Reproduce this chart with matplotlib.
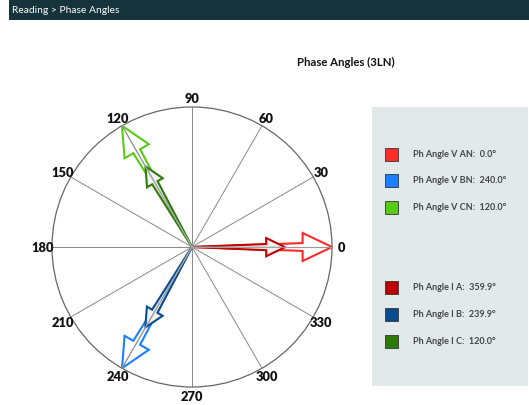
import numpy as np
import matplotlib.pyplot as plt
from matplotlib.patches import Polygon, Circle, Rectangle

plt.rcParams['font.family'] = ['Lato', 'DejaVu Sans']

# phase angles in degrees
volt_names = ["Ph Angle V AN:", "Ph Angle V BN:", "Ph Angle V CN:"]
volt_angles = [0.0, 240.0, 120.0]
curr_names = ["Ph Angle I A:", "Ph Angle I B:", "Ph Angle I C:"]
curr_angles = [359.9, 239.9, 120.0]
grid_angles = list(range(0, 360, 30))

volt_colors = ["#ff2a2a", "#1a80ff", "#55cc15"]
curr_colors = ["#c00000", "#0a4a8e", "#2f7a0c"]


def arrow_points(angle, base, tip, shaft_hw, head_hw):
    # long tapered shaft from the centre, then an open arrow head
    local = np.array([
        [0.0, 0.0],
        [base, -shaft_hw],
        [base, -head_hw],
        [tip, 0.0],
        [base, head_hw],
        [base, shaft_hw],
    ])
    a = np.deg2rad(angle)
    rot = np.array([[np.cos(a), -np.sin(a)], [np.sin(a), np.cos(a)]])
    return local @ rot.T


fig = plt.figure(figsize=(5.29, 4.06), dpi=100)

# header bar
hdr = fig.add_axes([9 / 529, 1 - 21 / 406, 520 / 529, 21 / 406])
hdr.set_facecolor("#14333a")
hdr.set_xticks([])
hdr.set_yticks([])
for s in hdr.spines.values():
    s.set_visible(False)
hdr.text(0.006, 0.5, "Reading > Phase Angles", color="white", fontsize=7.4,
         va="center", ha="left", transform=hdr.transAxes)

fig.text(346 / 529, 1 - 62 / 406, "Phase Angles (3LN)", fontsize=8.2,
         fontweight="bold", ha="center", va="center", color="#111111")

# phasor diagram
r_px = 140
cx, cy = 192, 248
ax = fig.add_axes([(cx - 1.25 * r_px) / 529, 1 - (cy + 1.25 * r_px) / 406,
                   2.5 * r_px / 529, 2.5 * r_px / 406])
ax.set_xlim(-1.25, 1.25)
ax.set_ylim(-1.25, 1.25)
ax.axis("off")

ax.add_patch(Circle((0, 0), 1.0, fill=False, edgecolor="#666666", lw=0.9))
for g in grid_angles:
    t = np.deg2rad(g)
    ax.plot([0, np.cos(t)], [0, np.sin(t)], color="#888888", lw=0.7)
    ax.text(1.065 * np.cos(t), 1.065 * np.sin(t), str(g), fontsize=9.3,
            fontweight="heavy", ha="center", va="center", color="#111111")

for ang, col in zip(volt_angles, volt_colors):
    pts = arrow_points(ang, 0.79, 1.0, 0.028, 0.1)
    ax.add_patch(Polygon(pts, closed=True, facecolor="white", edgecolor=col,
                         lw=1.5, joinstyle="miter"))
    t = np.deg2rad(ang)
    ax.plot([0, 0.99 * np.cos(t)], [0, 0.99 * np.sin(t)], color="#999999", lw=0.8)

for ang, col in zip(curr_angles, curr_colors):
    pts = arrow_points(ang, 0.53, 0.665, 0.022, 0.065)
    ax.add_patch(Polygon(pts, closed=True, facecolor="#f2f2f2", edgecolor=col,
                         lw=1.5, joinstyle="miter"))
    t = np.deg2rad(ang)
    ax.plot([0, 0.63 * np.cos(t)], [0, 0.63 * np.sin(t)], color="#aaaaaa", lw=0.7)

# legend panel
pnl = fig.add_axes([372 / 529, 1 - 387 / 406, 156 / 529, 279 / 406])
pnl.set_facecolor("#e2e9eb")
pnl.set_xlim(372, 528)
pnl.set_ylim(387, 108)
pnl.set_xticks([])
pnl.set_yticks([])
for s in pnl.spines.values():
    s.set_visible(False)

rows_y = [155, 181, 208, 288, 315, 342]
names = volt_names + curr_names
values = volt_angles + curr_angles
colors = volt_colors + curr_colors
for y, name, val, col in zip(rows_y, names, values, colors):
    pnl.add_patch(Rectangle((385, y - 6.5), 13, 13, facecolor=col,
                            edgecolor="#333333", lw=0.6))
    pnl.text(413, y, f"{name}  {val:.1f}°", fontsize=6.5, fontweight="bold",
             color="#444444", va="center", ha="left")

fig.savefig("out.png", dpi=100)
